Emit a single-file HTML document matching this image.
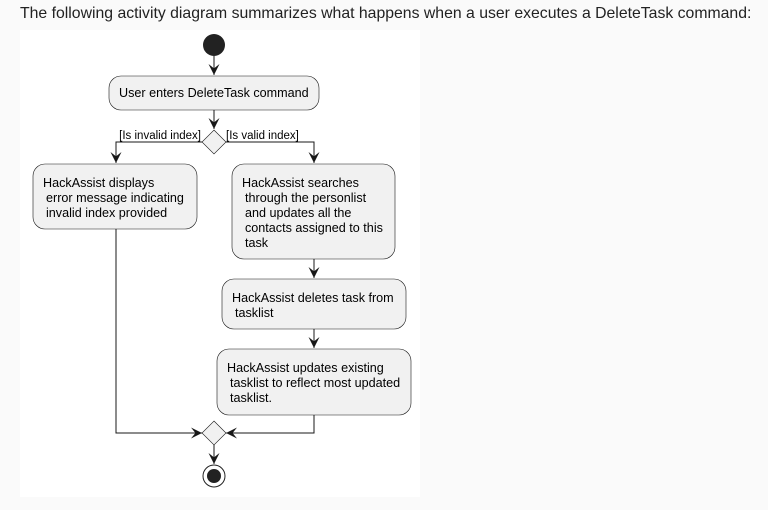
<!DOCTYPE html>
<html><head><meta charset="utf-8"><style>
html,body{margin:0;padding:0;background:#fafafa;width:768px;height:510px;overflow:hidden}
.t{position:absolute;left:20px;top:5px;font-family:"Liberation Sans",sans-serif;font-size:15.8px;color:#222;white-space:nowrap}
svg{position:absolute;left:0;top:0}
text{font-family:"Liberation Sans",sans-serif;font-size:12.6px;fill:#000}
</style></head><body>
<div class="t">The following activity diagram summarizes what happens when a user executes a DeleteTask command:</div>
<svg width="768" height="510">
<defs><marker id="a" viewBox="0 0 10 10" refX="10" refY="5" markerWidth="11" markerHeight="11" orient="auto" markerUnits="userSpaceOnUse"><path d="M0,0 L10,5 L0,10 L4,5 Z" fill="#181818"/></marker></defs>
<rect x="20" y="30" width="400" height="467" fill="#fff"/>
<g stroke="#181818" stroke-width="1" fill="none">
<line x1="214" y1="56" x2="214" y2="75" marker-end="url(#a)"/>
<line x1="214" y1="110" x2="214" y2="129" marker-end="url(#a)"/>
<polyline points="203,142 116,142 116,163" marker-end="url(#a)"/>
<polyline points="225,142 314,142 314,163" marker-end="url(#a)"/>
<line x1="314" y1="259" x2="314" y2="278" marker-end="url(#a)"/>
<line x1="314" y1="329" x2="314" y2="348" marker-end="url(#a)"/>
<polyline points="116,229 116,433 202,433" marker-end="url(#a)"/>
<polyline points="314,415 314,433 226,433" marker-end="url(#a)"/>
<line x1="214" y1="445" x2="214" y2="464" marker-end="url(#a)"/>
</g>
<circle cx="214" cy="45" r="11" fill="#222"/>
<g fill="#f1f1f1" stroke="#181818" stroke-width="0.6">
<rect x="109" y="76" width="210" height="34" rx="12"/>
<polygon points="214,130 226,142 214,154 202,142"/>
<rect x="33" y="164" width="164" height="65" rx="12"/>
<rect x="232" y="164" width="163" height="95" rx="12"/>
<rect x="222" y="279" width="184" height="50" rx="12"/>
<rect x="217" y="349" width="194" height="66" rx="12"/>
<polygon points="214,421 226,433 214,445 202,433"/>
</g>
<circle cx="214" cy="476" r="11" fill="#fff" stroke="#222" stroke-width="1"/>
<circle cx="214" cy="476" r="7" fill="#222"/>
<text x="119" y="97">User enters DeleteTask command</text>
<text x="201" y="139" text-anchor="end" style="font-size:11.5px">[Is invalid index]</text>
<text x="226" y="139" style="font-size:11.5px">[Is valid index]</text>
<text x="43" y="187">HackAssist displays</text>
<text x="46" y="202">error message indicating</text>
<text x="46" y="217">invalid index provided</text>
<text x="242" y="187">HackAssist searches</text>
<text x="245" y="202">through the personlist</text>
<text x="245" y="217">and updates all the</text>
<text x="245" y="232">contacts assigned to this</text>
<text x="245" y="247">task</text>
<text x="232" y="302">HackAssist deletes task from</text>
<text x="235" y="317">tasklist</text>
<text x="227" y="372">HackAssist updates existing</text>
<text x="230" y="387">tasklist to reflect most updated</text>
<text x="230" y="402">tasklist.</text>
</svg>
</body></html>
